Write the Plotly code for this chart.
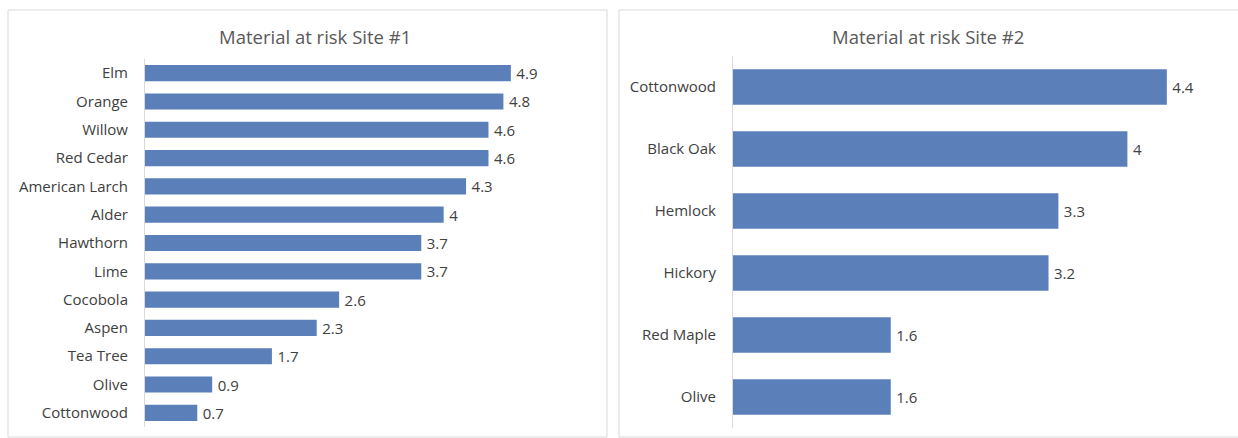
import plotly.graph_objects as go

# Site #1 species and values (top to bottom)
site1_species = ["Elm", "Orange", "Willow", "Red Cedar", "American Larch", "Alder",
                 "Hawthorn", "Lime", "Cocobola", "Aspen", "Tea Tree", "Olive", "Cottonwood"]
site1_values = [4.9, 4.8, 4.6, 4.6, 4.3, 4.0, 3.7, 3.7, 2.6, 2.3, 1.7, 0.9, 0.7]

# Site #2 species and values (top to bottom)
site2_species = ["Cottonwood", "Black Oak", "Hemlock", "Hickory", "Red Maple", "Olive"]
site2_values = [4.4, 4.0, 3.3, 3.2, 1.6, 1.6]

W, H = 1238, 438
BAR = "#5b80b9"
FONT = "Open Sans"


def px(x):
    return x / W


def py(y):
    return 1 - y / H


fig = go.Figure()

for vals, names, xa, ya in [(site1_values, site1_species, "x", "y"),
                            (site2_values, site2_species, "x2", "y2")]:
    fig.add_trace(go.Bar(
        x=vals, y=names, orientation="h",
        marker=dict(color=BAR, line=dict(width=0)),
        text=[f"\u2009{v:g}" for v in vals], textposition="outside",
        constraintext="none",
        textfont=dict(family=FONT, size=15, color="#404040"),
        cliponaxis=False, xaxis=xa, yaxis=ya, hoverinfo="skip",
    ))

hidden_x = dict(showgrid=False, zeroline=False, showticklabels=False,
                showline=False, ticks="")
cat_y = dict(autorange="reversed", showgrid=False, zeroline=False,
             showline=True, linecolor="#d9d9d9", linewidth=1, ticks="",
             ticklabelstandoff=13,
             tickfont=dict(family=FONT, size=15, color="#404040"))

fig.update_layout(
    width=W, height=H,
    margin=dict(l=0, r=0, t=0, b=0),
    paper_bgcolor="white", plot_bgcolor="white",
    showlegend=False, bargap=0.43,
    font=dict(family=FONT, color="#404040"),
    xaxis=dict(domain=[px(145), px(593)], range=[0, 6], anchor="y", **hidden_x),
    yaxis=dict(domain=[py(427), py(59)], anchor="x", **cat_y),
    xaxis2=dict(domain=[px(733), px(1226)], range=[0, 5], anchor="y2", **hidden_x),
    yaxis2=dict(domain=[py(428), py(56)], anchor="x2", **cat_y),
    shapes=[
        dict(type="rect", xref="paper", yref="paper",
             x0=px(8), x1=px(607), y0=py(437), y1=py(10),
             line=dict(color="#d9d9d9", width=1), fillcolor="rgba(0,0,0,0)", layer="below"),
        dict(type="rect", xref="paper", yref="paper",
             x0=px(619), x1=px(1245), y0=py(437), y1=py(10),
             line=dict(color="#d9d9d9", width=1), fillcolor="rgba(0,0,0,0)", layer="below"),
    ],
    annotations=[
        dict(text="Material at risk Site #1", xref="paper", yref="paper",
             x=px(315), y=py(37), showarrow=False, xanchor="center", yanchor="middle",
             font=dict(family=FONT, size=18.5, color="#595959")),
        dict(text="Material at risk Site #2", xref="paper", yref="paper",
             x=px(928), y=py(37), showarrow=False, xanchor="center", yanchor="middle",
             font=dict(family=FONT, size=18.5, color="#595959")),
    ],
)

fig.write_html("out.html")
